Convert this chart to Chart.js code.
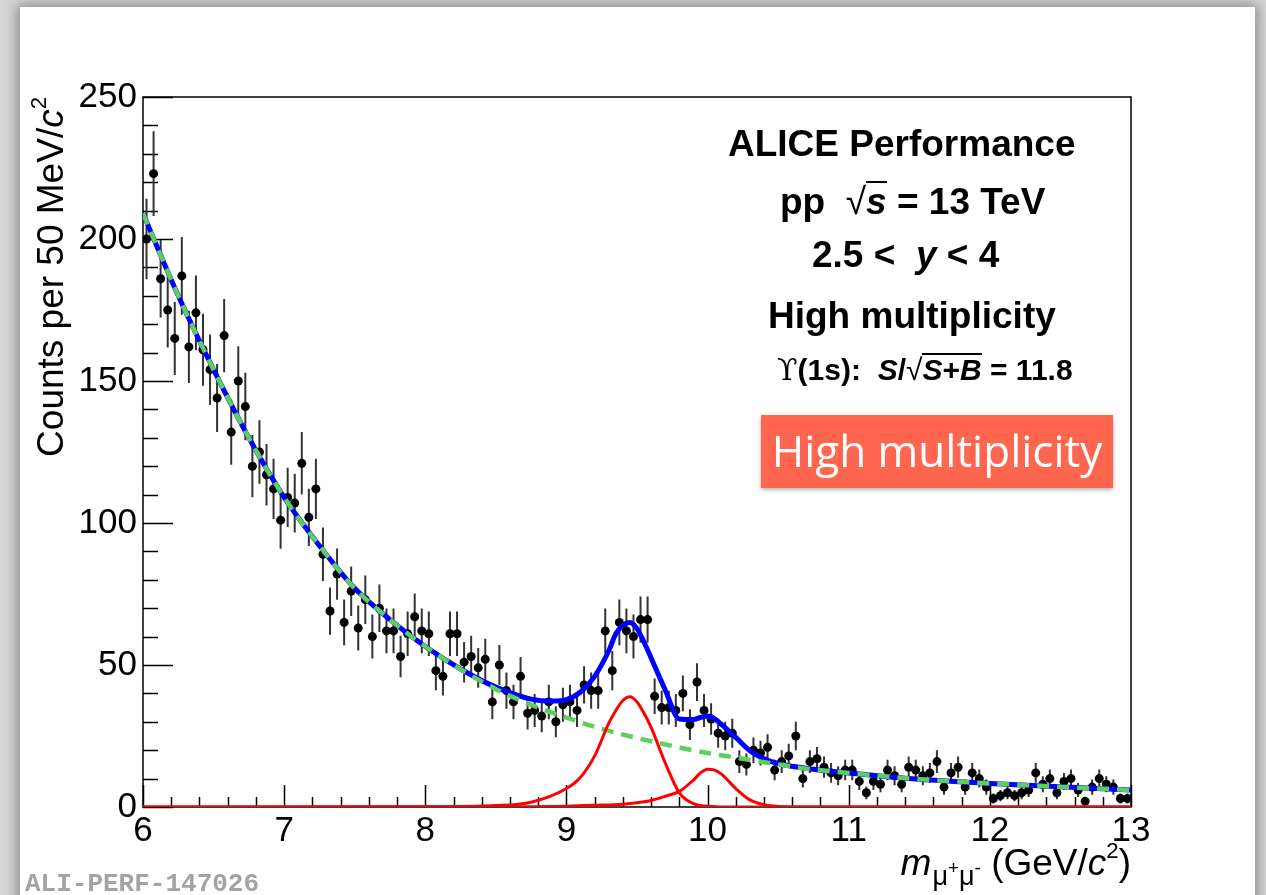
<!DOCTYPE html>
<html>
<head>
<meta charset="utf-8">
<script src="https://cdn.jsdelivr.net/npm/chart.js@4.4.1/dist/chart.umd.min.js"></script>
<style>
  html, body { margin: 0; padding: 0; }
  body { width: 1266px; height: 895px; overflow: hidden; position: relative; background: #d6d6d6;
         font-family: "Liberation Sans", Arial, Helvetica, sans-serif; }
  #page { position: absolute; left: 20px; top: 7px; width: 1235px; height: 920px; background: #fff;
          box-shadow: 0 0 12px 3px rgba(0,0,0,0.35); }
  #chart { position: absolute; left: 0; top: 0; }
  .t { position: absolute; white-space: nowrap; color: #000; line-height: 1; }
  .sup { font-size: 60%; position: relative; top: -0.75em; }
  .ov { display: inline-block; border-top: 2px solid #000; line-height: 1; }
  #ytitle { left: -388px; top: 97px; width: 420px; text-align: right; font-size: 37px;
            transform-origin: right top; transform: rotate(-90deg); }
  #xtitle { right: 135px; top: 844px; font-size: 37px; }
  #xtitle .sub { font-size: 27px; position: relative; top: 10px; margin-left: 1px; }
  #xtitle .sub .sup { font-size: 70%; top: -0.6em; }
  .info { font-weight: bold; font-size: 37px; }
  #tag { left: 761px; top: 415px; width: 352px; height: 73px; background: #ff6650; color: #fff;
         font-family: "Open Sans", "Liberation Sans", sans-serif; font-size: 44px; line-height: 70px;
         text-align: center; box-shadow: 0 2px 4px rgba(0,0,0,0.3); }
  #ali { left: 25px; top: 871px; font-family: "Liberation Mono", "DejaVu Sans Mono", monospace;
         font-weight: bold; font-size: 26px; color: #a3a3a3; }
</style>
</head>
<body>
<div id="page"></div>
<canvas id="chart" width="1266" height="895"></canvas>

<div id="ytitle" class="t">Counts per 50 MeV/<i>c</i><span class="sup">2</span></div>
<div id="xtitle" class="t"><i>m</i><span class="sub">μ<span class="sup">+</span>μ<span class="sup">-</span></span> (GeV/<i>c</i><span class="sup">2</span>)</div>

<div class="t info" style="left:728px; top:125px;">ALICE Performance</div>
<div class="t info" style="left:780px; top:181px;">pp&nbsp; <span style="font-weight:normal">√</span><span class="ov"><i>s</i></span> = 13 TeV</div>
<div class="t info" style="left:812px; top:236px;">2.5 &lt;&nbsp; <i>y</i> &lt; 4</div>
<div class="t info" style="left:768px; top:297px;">High multiplicity</div>
<div class="t info" style="left:777px; top:353px; font-size:30px;"><span style="font-family:'DejaVu Serif','Liberation Serif',serif; font-weight:normal;">ϒ</span>(1s):&nbsp; <i>S</i>/<span style="font-weight:normal">√</span><span class="ov"><i>S</i>+<i>B</i></span> = 11.8</div>

<div id="tag" class="t">High multiplicity</div>
<div id="ali" class="t">ALI-PERF-147026</div>

<script>
// dimuon invariant mass histogram, 50 MeV bins from 6 to 13 GeV/c^2
const binLow = 6.0;
const binWidth = 0.05;
const counts = [
  200, 223, 186, 175, 165, 187, 162, 174, 161, 154,
  144, 166, 132, 150, 141, 120, 125, 117, 112, 101,
  109, 107, 121, 102, 112, 89, 69, 82, 65, 76,
  63, 73, 60, 70, 62, 62, 53, 61, 67, 62,
  61, 48, 46, 61, 61, 51, 53, 49, 52, 37,
  50, 41, 37, 46, 33, 34, 32, 37, 30, 36,
  37, 34, 43, 41, 41, 62, 48, 65, 62, 60,
  66, 66, 39, 35, 35, 34, 40, 29, 44, 34,
  31, 26, 25, 26, 16, 15, 20, 19, 21, 13,
  16, 18, 25, 10, 16, 17, 14, 12, 11, 13,
  13, 9, 5, 9, 8, 13, 11, 8, 14, 13,
  11, 12, 16, 7, 12, 14, 7, 12, 10, 7,
  3, 4, 5, 4, 5, 6, 12, 8, 10, 5,
  9, 10, 6, 2, 7, 10, 8, 7, 3, 3
];

// fit curves
const totalMass = [6, 6.25, 6.5, 6.75, 7, 7.25, 7.5, 7.75, 8, 8.25, 8.5, 8.75, 8.9, 9.0, 9.1, 9.2, 9.3, 9.35, 9.4, 9.45, 9.5, 9.55, 9.6, 9.7, 9.8, 9.9, 9.95, 10.0, 10.05, 10.1, 10.2, 10.3, 10.4, 10.5, 10.75, 11, 11.5, 12, 12.5, 13];
const totalCounts = [209, 180, 154, 130, 109, 92, 77, 66, 56.5, 48.6, 42.2, 38, 37.3, 37.8, 40.5, 46, 55, 61, 64, 65, 62.8, 58, 52.5, 41.2, 31, 30.8, 31.5, 32, 31, 29, 24.5, 19.8, 17, 15.3, 13.3, 12, 9.8, 8.3, 7.1, 6];

const bkgMass = [6, 6.25, 6.5, 6.75, 7, 7.25, 7.5, 7.75, 8, 8.25, 8.5, 8.75, 9, 9.25, 9.5, 9.75, 10, 10.25, 10.5, 10.75, 11, 11.25, 11.5, 11.75, 12, 12.25, 12.5, 12.75, 13];
const bkgCounts = [209, 180, 154, 130, 109, 92, 77, 66, 56.5, 48.5, 41.5, 36, 31.5, 27.5, 24.3, 21.5, 19, 17, 15, 13.2, 12, 10.8, 9.8, 9, 8.3, 7.7, 7.1, 6.5, 6];

const ups1Mass = [6, 8, 8.5, 8.75, 9, 9.1, 9.2, 9.3, 9.35, 9.4, 9.45, 9.5, 9.55, 9.6, 9.7, 9.8, 9.9, 10, 10.2, 13];
const ups1Counts = [0, 0.1, 0.5, 1.7, 6.5, 10.5, 18, 29.5, 34, 37.5, 38.8, 37, 33, 28, 15.5, 5, 1.2, 0.3, 0, 0];

const ups2Mass = [6, 8.5, 9, 9.2, 9.4, 9.5, 9.6, 9.7, 9.8, 9.9, 9.95, 10, 10.05, 10.1, 10.2, 10.3, 10.4, 10.5, 10.7, 13];
const ups2Counts = [0, 0.1, 0.3, 0.6, 1, 1.5, 2.3, 3.8, 5.5, 9.5, 12, 13.3, 13, 11.5, 6.5, 2.5, 0.8, 0.2, 0, 0];

const massTicks = [6, 7, 8, 9, 10, 11, 12, 13];
const countTicks = [0, 50, 100, 150, 200, 250];

const pairs = (xs, ys) => xs.map((x, i) => ({ x: x, y: ys[i] }));
const binCenter = i => binLow + binWidth * (i + 0.5);
const points = counts.map((c, i) => ({ x: binCenter(i), y: c }));

// ROOT style frame with ticks pointing inside
const rootFrame = {
  id: 'rootFrame',
  beforeDatasetsDraw(chart) {
    const { ctx, chartArea: a, scales: { x, y } } = chart;
    ctx.save();
    ctx.strokeStyle = '#000';
    ctx.lineWidth = 1.5;
    ctx.strokeRect(a.left, a.top, a.right - a.left, a.bottom - a.top);
    ctx.beginPath();
    for (let k = 0; k <= 35; k++) {
      const px = Math.round(x.getPixelForValue(6 + k * 0.2)) + 0.5;
      const len = k % 5 === 0 ? 22 : 10;
      ctx.moveTo(px, a.bottom);
      ctx.lineTo(px, a.bottom - len);
    }
    for (let k = 0; k <= 25; k++) {
      const py = Math.round(y.getPixelForValue(k * 10)) + 0.5;
      const len = k % 5 === 0 ? 30 : 15;
      ctx.moveTo(a.left, py);
      ctx.lineTo(a.left + len, py);
    }
    ctx.stroke();
    ctx.restore();
  }
};

// statistical error bars on the histogram points
const errorBars = {
  id: 'errorBars',
  beforeDatasetsDraw(chart) {
    const { ctx, scales: { x, y } } = chart;
    ctx.save();
    ctx.strokeStyle = '#333';
    ctx.lineWidth = 2;
    ctx.beginPath();
    counts.forEach((c, i) => {
      const px = x.getPixelForValue(binCenter(i));
      const e = Math.sqrt(c);
      ctx.moveTo(px, y.getPixelForValue(c - e));
      ctx.lineTo(px, y.getPixelForValue(c + e));
    });
    ctx.stroke();
    ctx.restore();
  }
};

const tickFont = { family: '"Liberation Sans", Arial, sans-serif', size: 35 };

new Chart(document.getElementById('chart'), {
  type: 'line',
  data: {
    datasets: [
      { label: 'Data', data: points, showLine: false, pointRadius: 4.5, pointHoverRadius: 4.5,
        pointBackgroundColor: '#000', pointBorderWidth: 0, order: 5 },
      { label: 'Total fit', data: pairs(totalMass, totalCounts), borderColor: '#0000ff', borderWidth: 5,
        pointRadius: 0, cubicInterpolationMode: 'monotone', order: 4 },
      { label: 'Background', data: pairs(bkgMass, bkgCounts), borderColor: '#5ccf5c', borderWidth: 4.5,
        borderDash: [12, 8], pointRadius: 0, cubicInterpolationMode: 'monotone', order: 3 },
      { label: 'Upsilon(1S)', data: pairs(ups1Mass, ups1Counts), borderColor: '#ff0000', borderWidth: 3,
        pointRadius: 0, cubicInterpolationMode: 'monotone', order: 2 },
      { label: 'Upsilon(2S)', data: pairs(ups2Mass, ups2Counts), borderColor: '#ff0000', borderWidth: 3,
        pointRadius: 0, cubicInterpolationMode: 'monotone', order: 1 }
    ]
  },
  options: {
    responsive: false,
    animation: false,
    events: [],
    layout: { padding: { left: 0, top: 97, right: 135, bottom: 0 } },
    plugins: { legend: { display: false }, tooltip: { enabled: false } },
    scales: {
      x: {
        type: 'linear', min: 6, max: 13,
        afterBuildTicks: s => { s.ticks = massTicks.map(v => ({ value: v })); },
        afterFit: s => { s.height = 88; },
        grid: { display: false, drawTicks: false },
        border: { display: false },
        ticks: { font: tickFont, color: '#000', padding: 3, maxRotation: 0, autoSkip: false }
      },
      y: {
        min: 0, max: 250,
        afterBuildTicks: s => { s.ticks = countTicks.map(v => ({ value: v })); },
        afterFit: s => { s.width = 143; },
        grid: { display: false, drawTicks: false },
        border: { display: false },
        ticks: { font: tickFont, color: '#000', padding: 6 }
      }
    }
  },
  plugins: [rootFrame, errorBars]
});
</script>
</body>
</html>
